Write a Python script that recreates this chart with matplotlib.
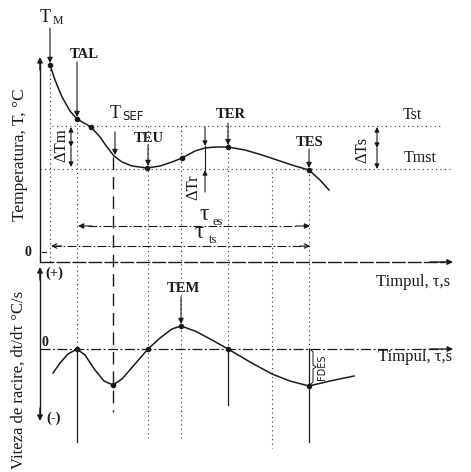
import matplotlib
matplotlib.use('Agg')
import matplotlib.pyplot as plt

# cooling curve T(tau), drawn in canvas units (x = time, y grows downwards)
tau_T = [50, 55, 62, 70, 77, 84, 91, 100, 107, 114, 122, 132, 147, 160, 172,
         182, 195, 205, 215, 228, 245, 262, 280, 295, 309, 320, 329]
temp_T = [65, 80, 97, 111, 119, 123, 127, 137, 147, 156, 162, 166, 168, 166, 162,
          158, 151, 148, 147, 147, 150, 155, 161, 166, 170, 180, 190]

# cooling rate dT/dtau, zero line at 349
tau_R = [53, 60, 68, 77, 85, 95, 104, 113, 122, 135, 148, 160, 172, 181,
         195, 212, 228, 250, 272, 290, 309, 330, 354]
rate_R = [373, 363, 354, 349, 355, 370, 381, 385, 379, 364, 349, 338, 329, 326,
          331, 340, 349, 362, 374, 381, 386, 381, 376]

# characteristic points
pts_T_tau = [50, 77, 91, 147, 182, 228, 309]
pts_T_val = [65, 119, 127, 168, 158, 147, 170]
pts_R_tau = [77, 113, 148, 181, 228, 309]
pts_R_val = [349, 385, 349, 326, 349, 386]

T_st, T_mst, rate_zero, t_axis = 126, 169, 349, 262

serif = ['Liberation Serif', 'DejaVu Serif']
ink = '#1a1a1a'

fig = plt.figure(figsize=(4.71, 4.72), dpi=100)
ax = fig.add_axes([0, 0, 1, 1])
ax.set_xlim(0, 471)
ax.set_ylim(472, 0)
ax.axis('off')


def arrow(x0, y0, x1, y1, style='-|>', lw=0.8, ms=8):
    ax.annotate('', xy=(x1, y1), xytext=(x0, y0),
                arrowprops=dict(arrowstyle=style, lw=lw, color=ink,
                                mutation_scale=ms, shrinkA=0, shrinkB=0))


def txt(x, y, s, size=10, weight='normal', family=serif, **kw):
    ax.text(x, y, s, fontsize=size, fontweight=weight, family=family,
            ha=kw.pop('ha', 'center'), va=kw.pop('va', 'center'), color=ink, **kw)


dot = dict(color='#333333', lw=0.8, ls=(0, (1, 3)))
dash = dict(color=ink, lw=1.0, ls=(0, (9, 5)))
solid = dict(color=ink, lw=0.9)

# guide lines
ax.plot([52, 443], [T_st, T_st], **dot)
ax.plot([40, 453], [T_mst, T_mst], **dot)
for x, y0, y1 in [(50, 65, t_axis), (77, 119, rate_zero), (148, T_st, 438),
                  (181, T_st, 438), (228, T_st, rate_zero), (272, 172, 448),
                  (309, 170, rate_zero)]:
    ax.plot([x, x], [y0, y1], **dot)
for x, y0, y1 in [(77, rate_zero, 442), (228, rate_zero, 405), (309, rate_zero, 442)]:
    ax.plot([x, x], [y0, y1], **solid)
ax.plot([113, 113], [157, 412], **dash)

# axes
ax.plot([40, 40], [t_axis, 62], color=ink, lw=1.0)
arrow(40, 70, 40, 57, lw=1.0)
ax.plot([40, 445], [t_axis, t_axis], color=ink, lw=1.0, ls=(0, (10, 1.5)))
arrow(430, t_axis, 453, t_axis, lw=1.0)
ax.plot([40, 40], [272, 416], color=ink, lw=1.0)
arrow(40, 280, 40, 267, lw=1.0)
arrow(40, 408, 40, 421, lw=1.0)
ax.plot([40, 445], [rate_zero, rate_zero], color=ink, lw=0.9, ls=(0, (8, 2, 1.5, 2)))
arrow(430, rate_zero, 453, rate_zero, lw=0.9)

# curves
ax.plot(tau_T, temp_T, color=ink, lw=1.1)
ax.plot(tau_R, rate_R, color=ink, lw=1.1)
ax.plot(pts_T_tau, pts_T_val, 'o', color=ink, ms=3)
ax.plot(pts_R_tau, pts_R_val, 'o', color=ink, ms=3)

# point arrows and labels
arrow(50, 28, 50, 63)
txt(45, 18, 'T', 13)
txt(58, 21, 'M', 8.5)
arrow(77, 62, 77, 117)
txt(84, 55, 'TAL', 10.5, 'bold')
arrow(115, 132, 115, 155)
txt(115, 113, 'T', 13)
txt(133, 117, 'SEF', 8.5, family=['DejaVu Sans'])
arrow(148, 145, 148, 166)
txt(149, 139, 'TEU', 10.5, 'bold')
arrow(228, 123, 228, 145)
txt(231, 115, 'TER', 10.5, 'bold')
arrow(309, 149, 309, 168)
txt(310, 142, 'TES', 10.5, 'bold')
arrow(181, 297, 181, 324)
txt(183, 289, 'TEM', 10.5, 'bold')

# temperature differences
arrow(71, 147, 71, 127, style='<|-|>', ms=7)
arrow(71, 147, 71, 167, ms=7)
txt(61, 145, 'ΔTm', 12, rotation=90)
arrow(377, 148, 377, 127, style='<|-|>', ms=7)
arrow(377, 148, 377, 169, ms=7)
txt(362, 150, 'ΔTs', 12, rotation=90)
arrow(205, 127, 205, 146, ms=7)
arrow(205, 192, 205, 170, ms=7)
ax.plot([205, 205], [146, 170], color=ink, lw=0.8)
txt(193, 187, 'ΔTr', 12, rotation=90)
txt(412, 115, 'Tst', 11.5)
txt(420, 158, 'Tmst', 11.5)

# time intervals
ax.plot([88, 298], [226, 226], color=ink, lw=0.8, ls=(0, (8, 2, 1.5, 2)))
arrow(92, 226, 78, 226, ms=8)
arrow(296, 226, 310, 226, ms=8)
txt(204, 214, 'τ', 17)
txt(218, 222, 'es', 9)
ax.plot([52, 309], [246, 246], color=ink, lw=0.8, ls=(0, (8, 2, 1.5, 2)))
arrow(62, 246, 51, 246, style='->', ms=8)
arrow(300, 246, 310, 246, style='->', ms=8)
txt(199, 233, 'τ', 17)
txt(213, 240, 'ts', 9)

# rate extras
ax.plot([311, 313, 313, 316, 313, 313, 311],
        [350, 352, 365, 367, 369, 382, 384], color=ink, lw=0.7)
txt(322, 367, 'FDES', 7, family=['DejaVu Sans'], rotation=90)
txt(28, 253, '0', 10, 'bold')
ax.plot([42, 46], [252, 252], color=ink, lw=0.8)
txt(45, 342, '0', 10, 'bold')
txt(54, 273, '(+)', 10.5, 'bold')
txt(54, 418, '(-)', 10.5, 'bold')

txt(413, 282, 'Timpul, τ,s', 12)
txt(415, 357, 'Timpul, τ,s', 12)
txt(20, 155, 'Temperatura, T, °C', 12.5, rotation=90)
txt(19, 380, 'Viteza de racire, dt/dτ °C/s', 12, rotation=90)

fig.savefig('out.png', dpi=100, facecolor='white')
